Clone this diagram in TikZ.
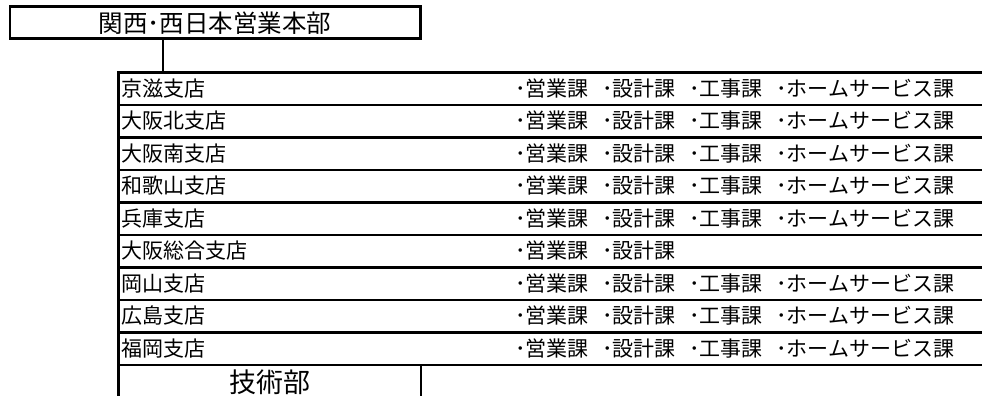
\documentclass[tikz,border=0pt]{standalone}
\usepackage{fontspec}
\setmainfont{Noto Sans CJK JP}
\newcommand\grp[1]{\makebox[87pt][l]{･#1}}
\newcommand\allsec{\grp{営業課}\grp{設計課}\grp{工事課}･ホームサービス課}
\newcommand\twosec{\grp{営業課}･設計課}
\begin{document}
\begin{tikzpicture}[x=1pt,y=-1pt,
  box/.style={draw=black, line width=2.6pt, fill=none, inner sep=0pt, anchor=north west},
  rowbox/.style={box, minimum width=900pt, minimum height=32.5pt},
  lbl/.style={anchor=west, inner sep=0pt, font=\fontsize{21pt}{21pt}\selectfont},
  sec/.style={anchor=west, inner sep=0pt, font=\fontsize{21pt}{21pt}\selectfont},
  conn/.style={line width=2.6pt}]
\useasboundingbox (0,0) rectangle (982,396);
\clip (0,0) rectangle (982,396);
% head office box
\node[box, minimum width=410.5pt, minimum height=32pt,
      font=\fontsize{24.5pt}{24.5pt}\selectfont] (hq) at (8.5,5.5) {関西･西日本営業本部};
% rows
\foreach \i/\name/\kind in {1/京滋支店/a, 2/大阪北支店/a, 3/大阪南支店/a, 4/和歌山支店/a,
  5/兵庫支店/a, 6/大阪総合支店/b, 7/岡山支店/a, 8/広島支店/a, 9/福岡支店/a}{
  \node[rowbox] (r\i) at (117,{71+(\i-1)*32.5}) {};
  \node[lbl] (l\i) at (121.5,{71+(\i-0.5)*32.5+1}) {\name};
  \node[sec] (s\i) at (515,{71+(\i-0.5)*32.5+1}) {\if a\kind\allsec\else\twosec\fi};
}
% technical dept
\node[box, minimum width=302.5pt, minimum height=35pt,
      font=\fontsize{27pt}{27pt}\selectfont] (tech) at (117,363.5) {技術部};
% connector
\coordinate (cx) at (163,0);
\draw[conn] (hq.south -| cx) -- (r1.north -| cx);
\end{tikzpicture}
\end{document}
